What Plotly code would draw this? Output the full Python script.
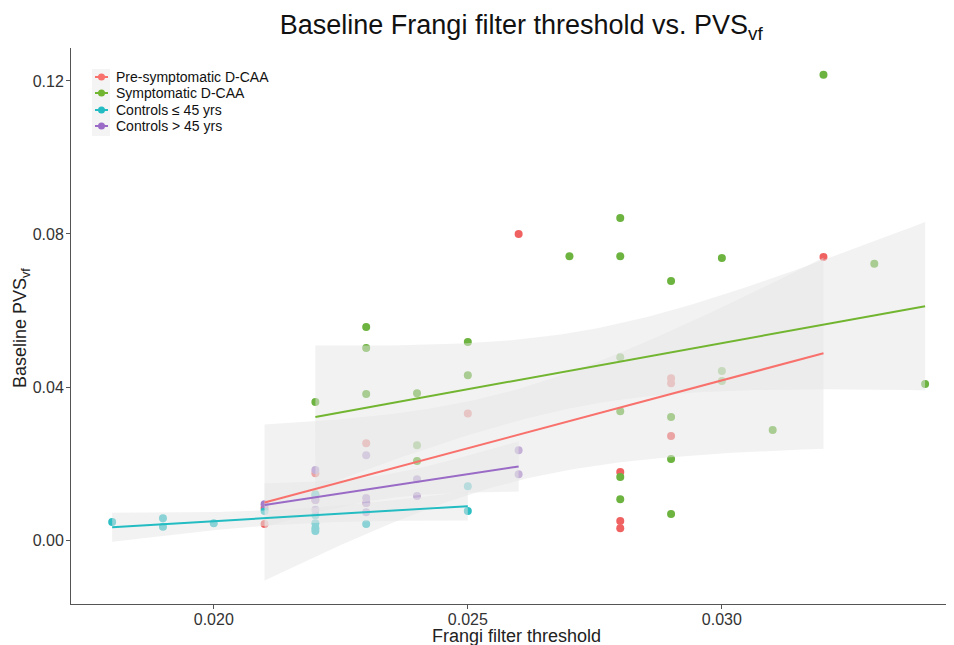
import math
import numpy as np
import plotly.graph_objects as go

# ---------------- data ----------------
groups = ["Pre-symptomatic D-CAA", "Symptomatic D-CAA", "Controls ≤ 45 yrs", "Controls > 45 yrs"]

# two pre-symptomatic points at 0.022/0.023 sit hidden behind control points
pre_x = [0.021, 0.021, 0.022, 0.022, 0.023, 0.023, 0.025, 0.026, 0.028, 0.028, 0.028,
         0.029, 0.029, 0.029, 0.032]
pre_y = [0.0084, 0.0042, 0.0175, 0.0105, 0.0253, 0.0097, 0.0331, 0.0800, 0.0178, 0.0050, 0.0031,
         0.0423, 0.0410, 0.0272, 0.0740]

sym_x = [0.022, 0.022, 0.023, 0.023, 0.023, 0.024, 0.024, 0.024, 0.025, 0.025,
         0.027, 0.028, 0.028, 0.028, 0.028, 0.028, 0.028, 0.029, 0.029, 0.029,
         0.029, 0.030, 0.030, 0.030, 0.031, 0.032, 0.033, 0.034]
sym_y = [0.0361, 0.0120, 0.0557, 0.0502, 0.0382, 0.0384, 0.0248, 0.0207, 0.0518, 0.0431,
         0.0742, 0.0842, 0.0742, 0.0478, 0.0337, 0.0165, 0.0107, 0.0677, 0.0322, 0.0212,
         0.0068, 0.0737, 0.0442, 0.0416, 0.0288, 0.1216, 0.0722, 0.0408]

young_x = [0.018, 0.019, 0.019, 0.020, 0.021, 0.022, 0.022, 0.022, 0.022, 0.022, 0.023, 0.025, 0.025]
young_y = [0.0047, 0.0057, 0.0035, 0.0044, 0.0076, 0.0118, 0.0065, 0.0044, 0.0031, 0.0024, 0.0042, 0.0141, 0.0076]

old_x = [0.021, 0.022, 0.022, 0.022, 0.023, 0.023, 0.023, 0.023, 0.024, 0.024, 0.026, 0.026]
old_y = [0.0094, 0.0183, 0.0105, 0.0079, 0.0222, 0.0110, 0.0097, 0.0073, 0.0159, 0.0115, 0.0235, 0.0172]

point_colors = ["#F06262", "#6DB33F", "#2EBFC4", "#A57DC8"]
line_colors = ["#F8716C", "#72B530", "#22BCC2", "#9A6BC6"]

x_ticks = [0.020, 0.025, 0.030]
x_ticktext = ["0.020", "0.025", "0.030"]
y_ticks = [0.00, 0.04, 0.08, 0.12]
y_ticktext = ["0.00", "0.04", "0.08", "0.12"]

series = [(pre_x, pre_y), (sym_x, sym_y), (young_x, young_y), (old_x, old_y)]

# ---------------- geometry (page has an 8 px body margin) ----------------
OFF = 8
W, H = 954, 645
ML, MT = 71 - OFF, 48 - OFF
MR = W - (950 - OFF)
MB = H - (604 - OFF)
PW, PH = W - ML - MR, H - MT - MB


def px(xpage):
    return (xpage - OFF - ML) / PW


def py(ypage):
    return (H - MB - (ypage - OFF)) / PH


# ---------------- linear fit with 95% confidence band ----------------
def t_quantile(p, df):
    c = math.exp(math.lgamma((df + 1) / 2) - math.lgamma(df / 2)) / math.sqrt(df * math.pi)

    def cdf(t):
        g = np.linspace(0, t, 4001)
        pdf = c * (1 + g ** 2 / df) ** (-(df + 1) / 2)
        return 0.5 + np.trapezoid(pdf, g)

    lo, hi = 0.0, 50.0
    for _ in range(80):
        mid = (lo + hi) / 2
        if cdf(mid) < p:
            lo = mid
        else:
            hi = mid
    return (lo + hi) / 2


def fit_band(xs, ys):
    x = np.asarray(xs, float)
    y = np.asarray(ys, float)
    n = len(x)
    b, a = np.polyfit(x, y, 1)
    resid = y - (a + b * x)
    s = math.sqrt(np.sum(resid ** 2) / (n - 2))
    xm = x.mean()
    sxx = np.sum((x - xm) ** 2)
    grid = np.linspace(x.min(), x.max(), 80)
    fit = a + b * grid
    se = s * np.sqrt(1 / n + (grid - xm) ** 2 / sxx)
    t = t_quantile(0.975, n - 2)
    return grid, fit, fit - t * se, fit + t * se


fig = go.Figure()

# points
for (xs, ys), name, col in zip(series, groups, point_colors):
    fig.add_trace(go.Scatter(x=xs, y=ys, mode="markers", showlegend=False,
                             marker=dict(color=col, size=8, line=dict(width=0)),
                             hoverinfo="x+y", name=name))

fits = [fit_band(xs, ys) for xs, ys in series]

# ribbons (drawn over points, like ggplot geom_smooth)
for grid, fit, lo, hi in fits:
    fig.add_trace(go.Scatter(x=grid, y=lo, mode="lines", line=dict(width=0),
                             showlegend=False, hoverinfo="skip"))
    fig.add_trace(go.Scatter(x=grid, y=hi, mode="lines", line=dict(width=0),
                             fill="tonexty", fillcolor="rgba(230,230,230,0.5)",
                             showlegend=False, hoverinfo="skip"))

# regression lines
for (grid, fit, lo, hi), col in zip(fits, line_colors):
    fig.add_trace(go.Scatter(x=grid, y=fit, mode="lines", line=dict(color=col, width=2),
                             showlegend=False, hoverinfo="skip"))

# ---------------- legend (drawn like ggplot's key column) ----------------
shapes = []
annotations = []
shapes.append(dict(type="rect", xref="paper", yref="paper",
                   x0=px(92), x1=px(110), y0=py(136), y1=py(69),
                   fillcolor="#F4F4F4", line=dict(width=0), layer="above"))
row_y = [77, 93, 110, 126]
for name, col, ry in zip(groups, line_colors, row_y):
    shapes.append(dict(type="line", xref="paper", yref="paper",
                       x0=px(95), x1=px(108), y0=py(ry), y1=py(ry),
                       line=dict(color=col, width=2), layer="above"))
    shapes.append(dict(type="circle", xref="paper", yref="paper",
                       x0=px(98), x1=px(105), y0=py(ry + 3.5), y1=py(ry - 3.5),
                       fillcolor=col, line=dict(width=0), layer="above"))
    annotations.append(dict(text=name, xref="paper", yref="paper",
                            x=px(114), y=py(ry), xanchor="left", yanchor="middle",
                            showarrow=False, font=dict(size=14, color="#111111")))

# axis titles
annotations.append(dict(text="Frangi filter threshold", xref="paper", yref="paper",
                        x=px(517), y=py(636), xanchor="center", yanchor="middle",
                        showarrow=False, font=dict(size=18, color="#222222")))
annotations.append(dict(text="Baseline PVS<sub>vf</sub>", xref="paper", yref="paper",
                        x=px(21), y=py(328), xanchor="center", yanchor="middle",
                        textangle=-90, showarrow=False, font=dict(size=18, color="#222222")))

axis_common = dict(showline=True, linecolor="#555555", linewidth=1, ticks="outside",
                   ticklen=4, tickcolor="#555555", showgrid=False, zeroline=False,
                   automargin=False, tickfont=dict(size=16, color="#333333"))

fig.update_layout(
    width=W, height=H,
    margin=dict(l=ML, r=MR, t=MT, b=MB),
    paper_bgcolor="white", plot_bgcolor="white",
    font=dict(family="Liberation Sans, Arial, sans-serif", color="#111111"),
    title=dict(text="Baseline Frangi filter threshold vs. PVS<sub>vf</sub>",
               x=0.538, xanchor="center", y=0.9736, yanchor="middle",
               font=dict(size=27, color="#111111")),
    xaxis=dict(range=[0.01719, 0.03449], tickvals=x_ticks, ticktext=x_ticktext,
               ticklabelstandoff=-3, **axis_common),
    yaxis=dict(range=[-0.0167, 0.1286], tickvals=y_ticks, ticktext=y_ticktext,
               ticklabelstandoff=-1, **axis_common),
    shapes=shapes,
    annotations=annotations,
    showlegend=False,
)

fig.write_html("out.html")
